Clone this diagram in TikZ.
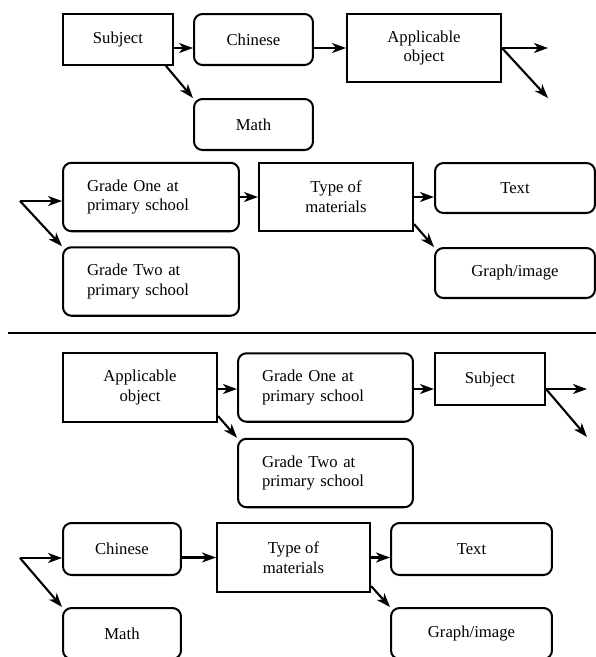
\documentclass[tikz,border=0pt]{standalone}
\usepackage{fontspec}
\setmainfont{Liberation Serif}
\usetikzlibrary{arrows.meta}
\begin{document}
\begin{tikzpicture}[x=0.02cm,y=-0.02cm,
  font=\fontsize{9.5}{11.3}\selectfont,
  sqbox/.style={draw,line width=1.15pt,inner sep=0pt,align=center},
  rndbox/.style={draw,line width=1.15pt,rounded corners=0.17cm,inner sep=0pt,align=center},
  gradebox/.style={rndbox,align=left,text width=2.56cm,inner xsep=0.48cm,minimum height=1.37cm},
  arr/.style={line width=1.2pt,-{Stealth[length=0.28cm,width=0.2cm,inset=0.08cm]}}]
\useasboundingbox (0,0) rectangle (596,657);
\clip (0,0) rectangle (596,657);
% upper chart
\node[sqbox,minimum width=2.2cm,minimum height=1.02cm] (subj1) at (118,39.5) {Subject};
\node[rndbox,minimum width=2.38cm,minimum height=1.02cm] (chin1) at (253.5,39.5) {Chinese};
\node[rndbox,minimum width=2.38cm,minimum height=1.02cm] (math1) at (253.5,124.5) {Math};
\node[sqbox,minimum width=3.08cm,minimum height=1.36cm] (appl1) at (424,48) {Applicable\\object};
\coordinate (out1a) at (548,48);
\coordinate (out1b) at (548,98);
\node[gradebox] (gone1) at (151,197) {Grade One at\\primary school};
\node[gradebox] (gtwo1) at (151,281.5) {Grade Two at\\primary school};
\coordinate (in1) at (20,201);
\node[sqbox,minimum width=3.08cm,minimum height=1.36cm] (type1) at (336,197) {Type of\\materials};
\node[rndbox,minimum width=3.2cm,minimum height=1.0cm] (text1) at (515,188) {Text};
\node[rndbox,minimum width=3.2cm,minimum height=1.0cm] (graph1) at (515,273) {Graph/image};
\draw[arr] (subj1.east |- appl1) -- (chin1.west |- appl1);
\draw[arr] ([xshift=-0.16cm]subj1.south east) -- (math1.north west);
\draw[arr] (chin1.east |- appl1) -- (appl1);
\draw[arr] (appl1.east) -- (out1a);
\draw[arr] (appl1.east) -- (out1b);
\draw[arr] (in1) -- (in1 -| gone1.west);
\draw[arr] (in1) -- (gtwo1.north west);
\draw[arr] (gone1) -- (type1);
\draw[arr] (type1) -- (text1.west |- type1);
\draw[arr] ([yshift=0.16cm]type1.south east) -- (graph1.north west);
% separator
\draw[line width=1.15pt] (8,333) -- (596,333);
% lower chart
\node[sqbox,minimum width=3.08cm,minimum height=1.38cm] (appl2) at (140,387.5) {Applicable\\object};
\node[gradebox,text width=2.54cm] (gone2) at (325.5,387.5) {Grade One at\\primary school};
\node[gradebox,text width=2.54cm] (gtwo2) at (325.5,473) {Grade Two at\\primary school};
\node[sqbox,minimum width=2.2cm,minimum height=1.04cm] (subj2) at (490,379) {Subject};
\coordinate (out2a) at (587,389);
\coordinate (out2b) at (587,437);
\draw[arr] (appl2.east |- 0,389) -- (gone2.west |- 0,389);
\draw[arr] ([yshift=0.14cm]appl2.south east) -- (gtwo2.north west);
\draw[arr] (gone2.east |- 0,389) -- (subj2.west |- 0,389);
\draw[arr] (subj2.east |- 0,389) -- (out2a);
\draw[arr] (subj2.east |- 0,389) -- (out2b);
\node[rndbox,minimum width=2.36cm,minimum height=1.04cm] (chin2) at (122,549) {Chinese};
\node[rndbox,minimum width=2.36cm,minimum height=1.02cm] (math2) at (122,633.5) {Math};
\coordinate (in2) at (20,558);
\node[sqbox,minimum width=3.06cm,minimum height=1.38cm] (type2) at (293.5,557.5) {Type of\\materials};
\node[rndbox,minimum width=3.22cm,minimum height=1.04cm] (text2) at (471.5,549) {Text};
\node[rndbox,minimum width=3.22cm,minimum height=1.02cm] (graph2) at (471.5,633.5) {Graph/image};
\draw[arr] (in2) -- (in2 -| chin2.west);
\draw[arr] (in2) -- (math2.north west);
\draw[arr] (chin2.east |- type2) -- (type2);
\draw[arr] (type2) -- (text2.west |- type2);
\draw[arr] ([yshift=0.14cm]type2.south east) -- (graph2.north west);
\end{tikzpicture}
\end{document}
